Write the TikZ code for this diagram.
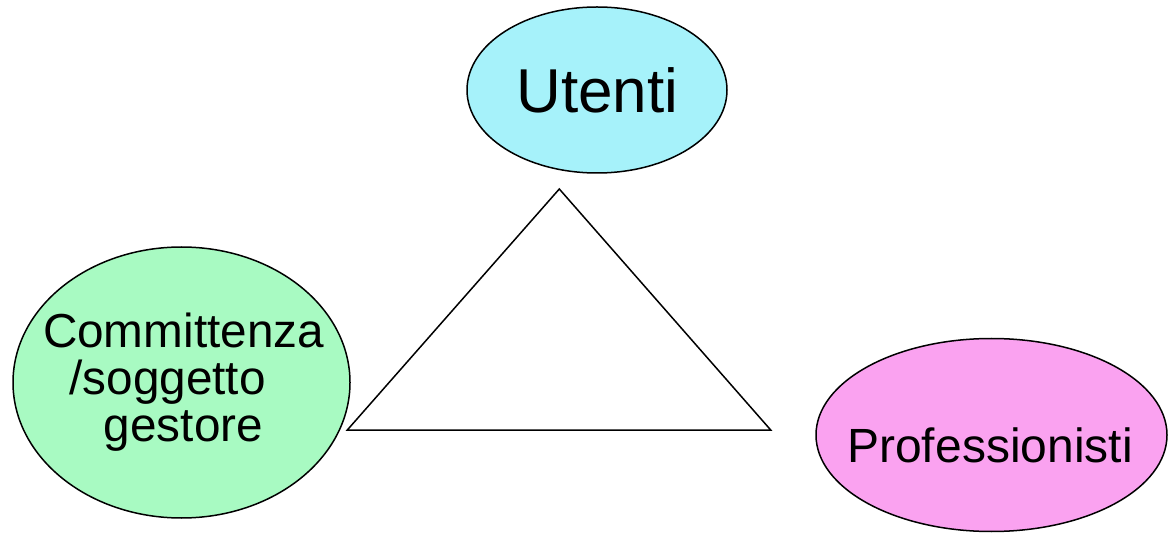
\documentclass[tikz,border=0pt]{standalone}
\usepackage{fontspec}
\setmainfont{Liberation Sans}
\usepackage{xcolor}
\usetikzlibrary{shapes.geometric}
\definecolor{utenticyan}{HTML}{A6F2FA}
\definecolor{committgreen}{HTML}{A8FAC2}
\definecolor{profpink}{HTML}{FAA2F0}

\begin{document}
\begin{tikzpicture}[
  x=1pt,
  y=-1pt,
  role/.style={ellipse, draw=black, line width=1.5pt, inner sep=0pt},
  rolename/.style={anchor=base, inner sep=0pt, text=black, align=center},
  edge/.style={black, line width=1.5pt, line join=miter}
]
  % ---- common bounding box of the slide picture ----
  \useasboundingbox (0,0) rectangle (1170,534);

  % ---- the three roles ----
  \node[role, fill=utenticyan, minimum width=260pt, minimum height=166pt]
    (utenti) at (597,90) {};
  \node[role, fill=committgreen, minimum width=337pt, minimum height=271pt]
    (committenza) at (181.5,382.5) {};
  \node[role, fill=profpink, minimum width=351pt, minimum height=193pt]
    (professionisti) at (991.5,435) {};

  % ---- their names, placed on the baseline ----
  \node[rolename, font=\fontsize{62}{64}\selectfont]
    (utenti name) at (597.5,113) {Utenti};
  % the middle line keeps the trailing blank of the slide text
  \node[rolename, font=\fontsize{47.7}{47.5}\selectfont]
    (committenza name) at (183.5,442)
    {Committenza\\/soggetto\rule{32pt}{0pt}\\gestore};
  \node[rolename, font=\fontsize{48}{50}\selectfont]
    (professionisti name) at (990,462) {Professionisti};

  % ---- triangle between them ----
  \coordinate (apex) at (559.3,189);
  \coordinate (left corner) at (347.3,430);
  \coordinate (right corner) at (770.7,430);
  \draw[edge] (apex) -- (right corner) -- (left corner) -- cycle;
\end{tikzpicture}
\end{document}
